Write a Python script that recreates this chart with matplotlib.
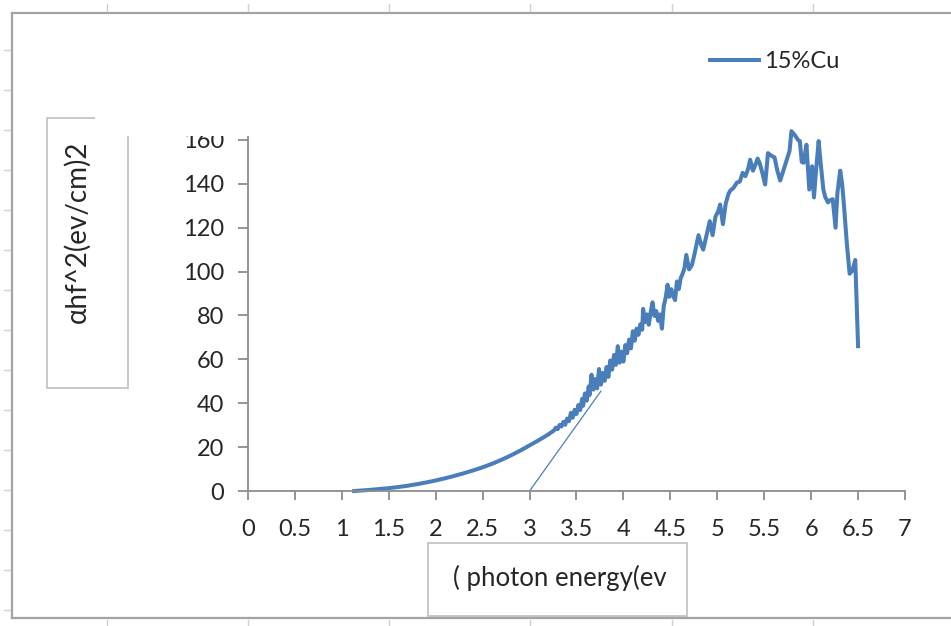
import matplotlib
matplotlib.use('Agg')
import matplotlib.pyplot as plt
from matplotlib.patches import Rectangle
from matplotlib.lines import Line2D

plt.rcParams['font.family'] = ['Lato', 'DejaVu Sans']

# absorption data for the 15% Cu film
energy = [1.13, 1.2, 1.3, 1.4, 1.5, 1.6, 1.7, 1.8, 1.9, 2.0, 2.1, 2.2, 2.3, 2.4, 2.5,
          2.6, 2.7, 2.8, 2.9, 3.0, 3.1, 3.2, 3.26, 3.28, 3.3, 3.32, 3.34, 3.36, 3.38,
          3.4, 3.42, 3.44, 3.46, 3.48, 3.5, 3.52, 3.54, 3.56, 3.57, 3.59, 3.61, 3.63,
          3.64, 3.66, 3.68, 3.7, 3.72, 3.74, 3.76, 3.78, 3.8, 3.82, 3.84, 3.86, 3.88,
          3.9, 3.92, 3.94, 3.96, 3.98, 4.0, 4.02, 4.04, 4.06, 4.08, 4.1, 4.12, 4.14,
          4.16, 4.18, 4.2, 4.21, 4.23, 4.25, 4.27, 4.29, 4.31, 4.33, 4.35, 4.37, 4.39,
          4.41, 4.43, 4.45, 4.47, 4.49, 4.51, 4.53, 4.55, 4.57, 4.59, 4.61, 4.63,
          4.65, 4.67, 4.7, 4.73, 4.76, 4.8, 4.83, 4.85,
          4.88, 4.92, 4.95, 4.98, 5.01, 5.03, 5.06, 5.09, 5.12, 5.14, 5.17, 5.21, 5.24,
          5.27, 5.3, 5.33, 5.35, 5.38, 5.4, 5.43, 5.45, 5.48, 5.51, 5.54, 5.57, 5.61,
          5.64, 5.67, 5.7, 5.74, 5.77, 5.79, 5.81, 5.83, 5.86, 5.88, 5.9, 5.92, 5.95,
          5.98, 6.01, 6.03, 6.05, 6.08, 6.1, 6.13, 6.15, 6.18, 6.2, 6.23, 6.26, 6.28,
          6.31, 6.33, 6.35, 6.38, 6.41, 6.44, 6.47, 6.5]
alpha_hv2 = [0.0, 0.2, 0.5, 0.9, 1.3, 1.8, 2.4, 3.1, 3.9, 4.8, 5.8, 6.9, 8.1, 9.4, 10.8,
             12.4, 14.2, 16.2, 18.4, 20.8, 23.2, 25.8, 27.6, 28.9, 28.2, 30.1, 29.4, 31.5, 30.2,
             33.0, 31.8, 35.6, 33.4, 37.0, 35.1, 39.2, 36.9, 42.0, 38.8, 44.5, 41.2, 47.6,
             43.8, 53.0, 46.2, 51.0, 46.8, 55.6, 48.5, 53.8, 50.2, 56.5, 52.0, 59.5, 55.3,
             62.0, 57.5, 66.0, 58.5, 63.5, 59.0, 66.5, 62.8, 69.0, 65.0, 72.8, 68.5, 74.0,
             71.2, 76.0, 73.5, 83.0, 77.0, 80.5, 75.8, 81.5, 86.0, 79.8, 82.0, 77.5, 80.5,
             74.0, 84.5, 88.0, 94.0, 88.5, 92.0, 89.0, 87.0, 95.5, 92.0, 97.0, 99.0,
             101.5, 107.6, 101.0, 103.0, 108.5, 116.6, 112.0, 110.0,
             115.5, 123.0, 116.6, 125.0, 127.5, 130.6, 121.6, 131.0, 135.5, 137.0, 138.0, 140.6, 141.0,
             145.0, 143.5, 147.0, 151.0, 146.0, 148.0, 151.5, 149.6, 145.0, 139.7, 154.0, 153.0, 152.0,
             146.0, 141.5, 145.5, 151.0, 155.0, 164.0, 163.0, 162.0, 160.0, 159.5, 150.0, 149.6, 157.8,
             137.4, 148.0, 133.8, 145.0, 159.5, 150.0, 137.4, 134.0, 131.5, 132.5, 133.0, 120.0, 136.0,
             146.0, 140.0, 130.0, 113.0, 99.0, 100.5, 105.3, 66.0]

# linear extrapolation used to read the band gap
tangent_x = [3.0, 3.76]
tangent_y = [0.0, 45.5]

x_ticks = [0, 0.5, 1, 1.5, 2, 2.5, 3, 3.5, 4, 4.5, 5, 5.5, 6, 6.5, 7]
x_ticklabels = ['0', '0.5', '1', '1.5', '2', '2.5', '3', '3.5', '4', '4.5', '5', '5.5', '6', '6.5', '7']
y_ticks = [0, 20, 40, 60, 80, 100, 120, 140, 160]

W, H = 951, 626
blue = '#4a7ebb'
axis_grey = '#8c8c8c'
box_grey = '#c4c4c4'
text_col = '#262626'


def fx(px):
    return px / W


def fy(py):
    return 1 - py / H


fig = plt.figure(figsize=(W / 100, H / 100), dpi=100)
ax = fig.add_axes([fx(248), fy(491), fx(905) - fx(248), fy(136) - fy(491)])

ax.plot(energy, alpha_hv2, color=blue, lw=2.9, solid_joinstyle='round', label='15%Cu',
        clip_on=False)
ax.plot(tangent_x, tangent_y, color=blue, lw=0.9)

ax.set_xlim(0, 7)
ax.set_ylim(0, 161.8)
ax.set_xticks(x_ticks)
ax.set_xticklabels(x_ticklabels)
ax.set_yticks(y_ticks)
for side in ['top', 'right']:
    ax.spines[side].set_visible(False)
for side in ['left', 'bottom']:
    ax.spines[side].set_color(axis_grey)
    ax.spines[side].set_linewidth(1.3)
ax.tick_params(axis='y', direction='out', length=7, width=1.3, color=axis_grey,
               labelsize=17, labelcolor=text_col, pad=10)
ax.tick_params(axis='x', direction='out', length=6.5, width=1.3, color=axis_grey,
               labelsize=17, labelcolor=text_col, pad=14)
ax.patch.set_visible(False)

# legend without frame at the upper right
leg = fig.legend(loc='center left', bbox_to_anchor=(fx(698), fy(62)), frameon=False,
                 fontsize=17, handlelength=2.1, handletextpad=0.2, borderpad=0)
for t in leg.get_texts():
    t.set_color(text_col)

# axis title boxes
fig.add_artist(Rectangle((fx(47), fy(388)), fx(128) - fx(47), fy(118) - fy(388),
                         transform=fig.transFigure, fill=False, ec=box_grey, lw=1.3, zorder=3))
fig.text(fx(77), fy(232), 'αhf^2(ev/cm)2', rotation=90, ha='center', va='center',
         fontsize=20, color=text_col, zorder=4)

fig.add_artist(Rectangle((fx(428), fy(616)), fx(687) - fx(428), fy(543) - fy(616),
                         transform=fig.transFigure, fill=False, ec=box_grey, lw=1.3, zorder=3))
fig.text(fx(560), fy(578), '( photon energy(ev', ha='center', va='center',
         fontsize=18.5, color=text_col, zorder=4)

# blank title area overlapping the top of the plot area
fig.add_artist(Rectangle((fx(95), fy(136)), fx(290) - fx(95), fy(100) - fy(136),
                         transform=fig.transFigure, fc='white', ec='none', zorder=6))

# chart frame and sheet grid stubs
frame = '#a3a3a3'
stub = '#d0d0d0'
fig.add_artist(Line2D([fx(12), 1], [fy(13), fy(13)], color=frame, lw=1.6, zorder=7))
fig.add_artist(Line2D([fx(12), fx(12)], [fy(13), fy(618)], color=frame, lw=1.6, zorder=7))
fig.add_artist(Line2D([fx(12), 1], [fy(618), fy(618)], color=frame, lw=1.6, zorder=7))
for col in [107, 248, 389, 530, 672, 813]:
    fig.add_artist(Line2D([fx(col), fx(col)], [fy(4), fy(11)], color=stub, lw=1, zorder=7))
    fig.add_artist(Line2D([fx(col), fx(col)], [fy(620), 0], color=stub, lw=1, zorder=7))
for row in range(50, 618, 40):
    fig.add_artist(Line2D([fx(4), fx(10)], [fy(row), fy(row)], color=stub, lw=1, zorder=7))

fig.savefig('out.png', dpi=100, facecolor='white')
